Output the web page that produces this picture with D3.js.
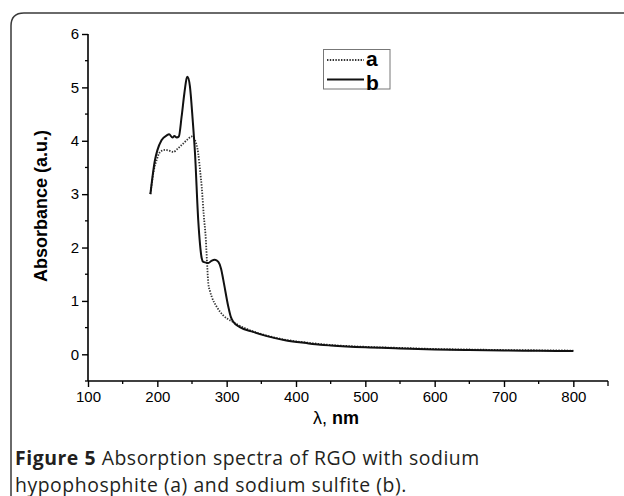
<!DOCTYPE html>
<html><head><meta charset="utf-8">
<script src="https://cdn.jsdelivr.net/npm/d3@7"></script>
<style>
html,body{margin:0;padding:0;background:#fff;}
svg{display:block;}
</style></head>
<body>
<svg id="c" width="624" height="496"></svg>
<script>
// ---- data ----
const lambdaB = [190,196.6,200,206,213.5,217,222,224.5,228,231,235,239,242.3,243.5,247,251,254.3,259,261.5,264,266.3,273.5,278,283,288,292,295.2,302.4,306,309.6,319,338,358,386,415,435,450,500,550,600,650,700,750,800];
const absB    = [3.0,3.64,3.82,4.01,4.1,4.12,4.06,4.09,4.06,4.08,4.45,4.89,5.17,5.2,5.02,4.39,3.77,2.51,2.07,1.8,1.73,1.71,1.75,1.77,1.73,1.6,1.39,0.89,0.7,0.61,0.51,0.42,0.34,0.26,0.21,0.18,0.165,0.13,0.11,0.09,0.08,0.07,0.065,0.06];
const lambdaA = [190,195,199,204,211,218,223,230,237.5,244.7,249.5,254.3,259,262,264,267,270,272,273.5,276,278.4,285.6,295,307,315,338,358,386,415,450,500,550,600,650,700,750,800];
const absA    = [3.0,3.45,3.64,3.79,3.83,3.81,3.79,3.86,3.95,4.04,4.08,4.01,3.76,3.4,3.14,2.6,2.14,1.64,1.33,1.18,1.08,0.89,0.73,0.62,0.56,0.43,0.35,0.27,0.22,0.175,0.14,0.12,0.1,0.09,0.08,0.075,0.07];
const xTicks = [100,200,300,400,500,600,700,800];
const xMinor = [150,250,350,450,550,650,750,850];
const yTicks = [0,1,2,3,4,5,6];
const yMinor = [-0.5,0.5,1.5,2.5,3.5,4.5,5.5];
const legendLabels = ["a","b"];
const xTitle = ["λ, ","nm"];
const yTitle = "Absorbance (a.u.)";
const captionBold = "Figure 5";
const captionLine1 = " Absorption spectra of RGO with sodium";
const captionLine2 = "hypophosphite (a) and sodium sulfite (b).";

// ---- drawing ----
const svg = d3.select("#c");
// frame
svg.append("path")
  .attr("d","M11,640 L11,26 Q11,13 24,13 L640,13")
  .attr("fill","none").attr("stroke","#3a3a3a").attr("stroke-width",1.5);

const x = d3.scaleLinear().domain([100,850]).range([88,608]);
const y = d3.scaleLinear().domain([-0.5,6]).range([381,34]);

const g = svg.append("g");
// minor ticks
g.selectAll(".xm").data(xMinor).join("line")
  .attr("x1",d=>x(d)).attr("x2",d=>x(d)).attr("y1",y(-0.5)).attr("y2",d=>y(-0.5)+(d===850?5:3))
  .attr("stroke","#000").attr("stroke-width",1.3);
g.selectAll(".ym").data(yMinor).join("line")
  .attr("x1",x(100)).attr("x2",x(100)-3).attr("y1",d=>y(d)).attr("y2",d=>y(d))
  .attr("stroke","#000").attr("stroke-width",1.3);

const xAxis = d3.axisBottom(x).tickValues(xTicks).tickSize(6).tickPadding(4).tickFormat(d3.format("d"));
const yAxis = d3.axisLeft(y).tickValues(yTicks).tickSize(6).tickPadding(3).tickFormat(d3.format("d"));
const gx = svg.append("g").attr("transform",`translate(0,${y(-0.5)})`).call(xAxis);
const gy = svg.append("g").attr("transform",`translate(${x(100)},0)`).call(yAxis);
[gx,gy].forEach(a=>{
  a.select(".domain").attr("stroke","#000").attr("stroke-width",1.6);
  a.selectAll(".tick line").attr("stroke","#000").attr("stroke-width",1.4);
  a.selectAll("text").attr("font-family","Liberation Sans, Arial, sans-serif").attr("font-size",15).attr("fill","#000");
});
gy.select(".domain").attr("d",`M0,${y(6)}V${y(-0.5)}`);
gx.select(".domain").attr("d",`M${x(100)},0H${x(850)}`);

// curves
const line = d3.line().x(d=>x(d[0])).y(d=>y(d[1])).curve(d3.curveMonotoneX);
const dataA = lambdaA.map((l,i)=>[l,absA[i]]);
const dataB = lambdaB.map((l,i)=>[l,absB[i]]);
svg.append("path").datum(dataA).attr("d",line).attr("fill","none")
  .attr("stroke","#333").attr("stroke-width",1.8).attr("stroke-dasharray","1.4,1.4");
svg.append("path").datum(dataB).attr("d",line).attr("fill","none")
  .attr("stroke","#111").attr("stroke-width",2);

// legend
const lg = svg.append("g");
lg.append("rect").attr("x",323.5).attr("y",49.5).attr("width",66.5).attr("height",39.5)
  .attr("fill","#fff").attr("stroke","#777").attr("stroke-width",1);
lg.append("line").attr("x1",327).attr("x2",364).attr("y1",60).attr("y2",60)
  .attr("stroke","#333").attr("stroke-width",1.8).attr("stroke-dasharray","1.4,1.4");
lg.append("line").attr("x1",327).attr("x2",364).attr("y1",79.5).attr("y2",79.5)
  .attr("stroke","#111").attr("stroke-width",2);
lg.selectAll("text").data(legendLabels).join("text")
  .attr("x",366).attr("y",(d,i)=>i===0?65.5:89.5)
  .attr("font-family","Liberation Sans, Arial, sans-serif").attr("font-weight","bold")
  .attr("font-size",21).attr("fill","#000").text(d=>d);

// axis titles
const xt = svg.append("text").attr("x",336).attr("y",424).attr("text-anchor","middle")
  .attr("font-family","Liberation Sans, Arial, sans-serif").attr("font-size",18).attr("fill","#000");
xt.append("tspan").text(xTitle[0]);
xt.append("tspan").attr("font-weight","bold").text(xTitle[1]);
svg.append("text").attr("transform","translate(47,206) rotate(-90)").attr("text-anchor","middle")
  .attr("font-family","Liberation Sans, Arial, sans-serif").attr("font-weight","bold")
  .attr("font-size",18).attr("fill","#000").text(yTitle);

// caption
const cap = svg.append("text").attr("x",15).attr("y",465)
  .attr("font-family","Open Sans, sans-serif").attr("font-size",19.4).attr("letter-spacing",0.55).attr("fill","#231f20");
cap.append("tspan").attr("font-weight","bold").text(captionBold);
cap.append("tspan").text(captionLine1);
svg.append("text").attr("x",15).attr("y",491.5)
  .attr("font-family","Open Sans, sans-serif").attr("font-size",19.4).attr("letter-spacing",0.55).attr("fill","#231f20").text(captionLine2);
</script>
</body></html>
